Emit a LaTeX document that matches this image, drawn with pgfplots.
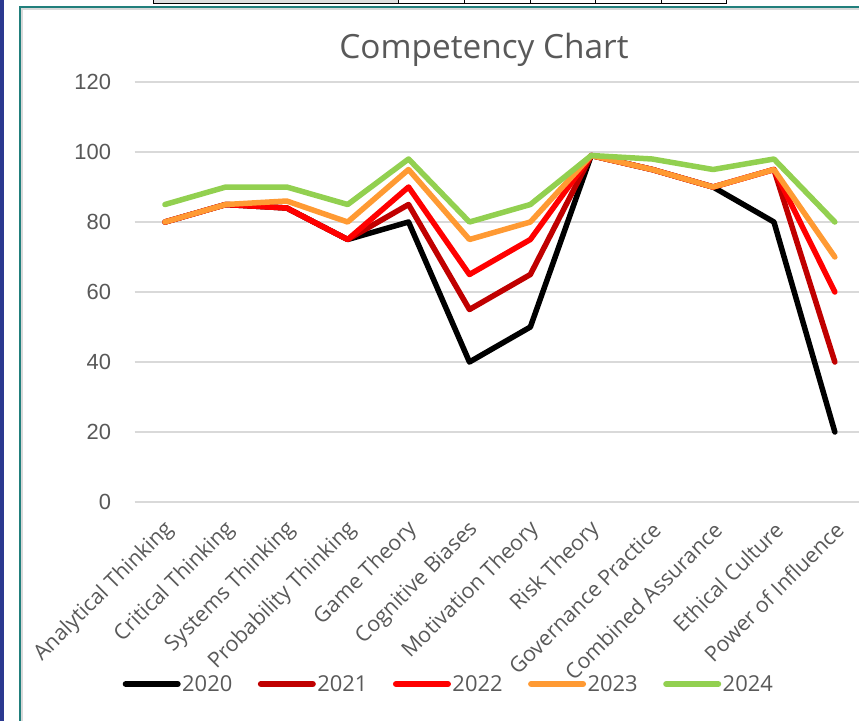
\documentclass[border=0pt]{standalone}
\usepackage{fontspec}
\setmainfont{Open Sans}
\newfontfamily\tickfont{Liberation Sans}
\usepackage{pgfplots}
\pgfplotsset{compat=1.18}
\definecolor{textgray}{HTML}{595959}
\definecolor{gridgray}{HTML}{D9D9D9}
\definecolor{c2021}{HTML}{C00000}
\definecolor{c2022}{HTML}{FF0000}
\definecolor{c2023}{HTML}{FF9A33}
\definecolor{c2024}{HTML}{92D050}
\definecolor{navy}{HTML}{2B3990}
\definecolor{frameteal}{HTML}{217F7C}
\begin{document}
\begin{tikzpicture}
\useasboundingbox (0,0) rectangle (859bp,-721bp);
\fill[white] (0,0) rectangle (859bp,-721bp);
\fill[navy] (0,0) rectangle (4bp,-721bp);
% table fragment at top
\fill[gray!25] (153bp,0) rectangle (398bp,-3bp);
\draw[line width=0.8bp] (153bp,1bp) -- (153bp,-3bp) -- (726bp,-3bp) -- (726bp,1bp);
\foreach \xx in {398,464,530,595,661} {\draw[line width=0.8bp] (\xx bp,1bp) -- (\xx bp,-3bp);}
% frame
\draw[frameteal, line width=2bp] (20bp,-730bp) -- (20bp,-7bp) -- (870bp,-7bp);
\draw[gridgray, line width=2bp] (22bp,-730bp) -- (22bp,-9bp) -- (870bp,-9bp);
\node[font=\fontsize{33.5}{38}\selectfont, text=textgray, anchor=base] at (484bp,-58bp) {Competency Chart};
\begin{axis}[
  at={(134.5bp,-502bp)}, anchor=south west,
  x=60.9bp, y=3.5bp,
  xmin=-0.5, xmax=11.5, ymin=0, ymax=120,
  axis line style={draw=none},
  major tick length=0pt,
  /pgf/number format/assume math mode=true,
  ytick={0,20,...,120},
  ymajorgrids, grid style={color=gridgray, line width=1.5bp},
  yticklabel style={font=\tickfont\fontsize{22}{24}\selectfont, text=textgray, xshift=-20bp},
  xtick={0,...,11},
  xticklabels={Analytical Thinking, Critical Thinking, Systems Thinking, Probability Thinking, Game Theory, Cognitive Biases, Motivation Theory, Risk Theory, Governance Practice, Combined Assurance, Ethical Culture, Power of Influence},
  xticklabel style={font=\fontsize{21.5}{23}\selectfont, text=textgray, xshift=5bp, yshift=-24bp, rotate=45, anchor=east, inner sep=0pt},
  legend columns=5,
  legend style={at={(-0.0205,-0.4333)}, anchor=west, draw=none, fill=none,
    font=\fontsize{22}{24}\selectfont, text=textgray,
    nodes={inner sep=1.5bp},
    /tikz/every even column/.append style={column sep=24bp}},
  legend image code/.code={\draw[#1, line width=6bp, line cap=round] (0bp,0bp) -- (52bp,0bp);},
  every axis plot/.append style={line width=5.5bp, line join=round, line cap=round, mark=none},
  clip=false,
]
\addplot[black] coordinates {(0,80)(1,85)(2,84)(3,75)(4,80)(5,40)(6,50)(7,99)(8,95)(9,90)(10,80)(11,20)};
\addplot[c2021] coordinates {(0,80)(1,85)(2,84)(3,75)(4,85)(5,55)(6,65)(7,99)(8,95)(9,90)(10,95)(11,40)};
\addplot[c2022] coordinates {(0,80)(1,85)(2,84)(3,75)(4,90)(5,65)(6,75)(7,99)(8,95)(9,90)(10,95)(11,60)};
\addplot[c2023] coordinates {(0,80)(1,85)(2,86)(3,80)(4,95)(5,75)(6,80)(7,99)(8,95)(9,90)(10,95)(11,70)};
\addplot[c2024] coordinates {(0,85)(1,90)(2,90)(3,85)(4,98)(5,80)(6,85)(7,99)(8,98)(9,95)(10,98)(11,80)};
\legend{2020,2021,2022,2023,2024}
\end{axis}
\end{tikzpicture}
\end{document}
